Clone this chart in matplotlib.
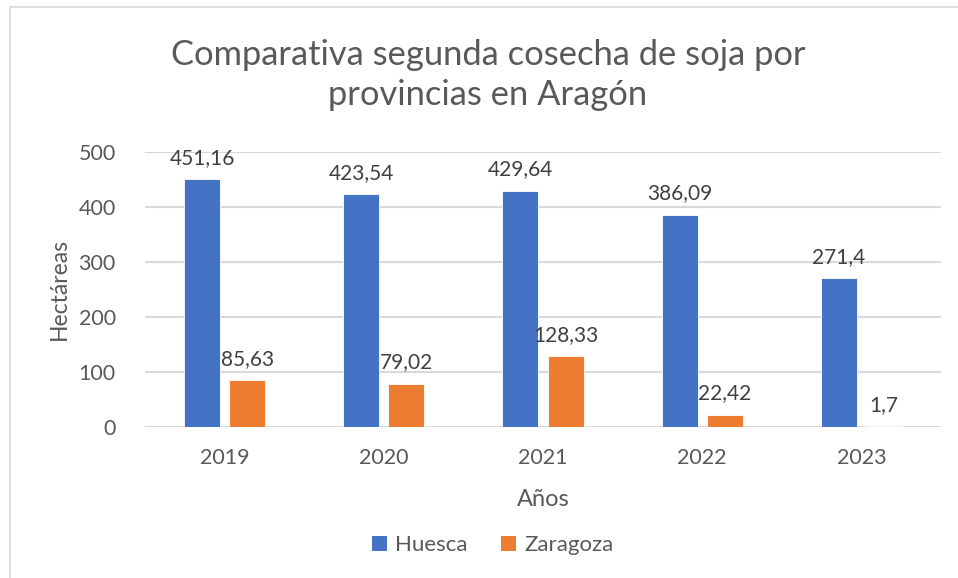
import matplotlib
matplotlib.use("Agg")
import matplotlib.pyplot as plt
from matplotlib.lines import Line2D
from matplotlib.patches import Patch
import numpy as np

plt.rcParams['font.family'] = ['Lato', 'DejaVu Sans']

years = ["2019", "2020", "2021", "2022", "2023"]
huesca = [451.16, 423.54, 429.64, 386.09, 271.4]
zaragoza = [85.63, 79.02, 128.33, 22.42, 1.7]
huesca_labels = ["451,16", "423,54", "429,64", "386,09", "271,4"]
zaragoza_labels = ["85,63", "79,02", "128,33", "22,42", "1,7"]

blue = "#4472C4"
orange = "#ED7D31"
grid_c = "#D9D9D9"
tick_c = "#595959"
lab_c = "#404040"

fig = plt.figure(figsize=(9.58, 5.78), dpi=100)
ax = fig.add_axes([145/958, 1-427/578, (941-145)/958, (427-152)/578])

x = np.arange(len(years))
w = 0.226
off = 0.1415
ax.bar(x - off, huesca, w, color=blue, edgecolor="#FFFFFF", linewidth=0.6, zorder=3, label="Huesca")
ax.bar(x + off, zaragoza, w, color=orange, edgecolor="#FFFFFF", linewidth=0.6, zorder=3, label="Zaragoza")

for xi, v, t in zip(x - off, huesca, huesca_labels):
    ax.annotate(t, (xi, v), xytext=(0, 8), textcoords="offset points", ha="center", va="bottom",
                fontsize=15, color=lab_c)
for xi, v, t in zip(x + off, zaragoza, zaragoza_labels):
    ax.annotate(t, (xi, v), xytext=(0, 8), textcoords="offset points", ha="center", va="bottom",
                fontsize=15, color=lab_c)

ax.set_xlim(-0.5, 4.5)
ax.set_ylim(0, 500)
ax.set_yticks([0, 100, 200, 300, 400, 500])
ax.set_xticks(x)
ax.set_xticklabels(years)
ax.yaxis.grid(True, color=grid_c, linewidth=1.5, zorder=0)
ax.set_axisbelow(True)
for s in ["top", "right", "left", "bottom"]:
    ax.spines[s].set_visible(False)
ax.tick_params(axis="both", length=0, labelsize=15.5, labelcolor=tick_c)
ax.tick_params(axis="y", pad=21)
ax.tick_params(axis="x", pad=15)

ax.set_ylabel("Hectáreas", fontsize=16.5, color=tick_c, labelpad=6)
ax.set_xlabel("Años", fontsize=17, color=tick_c, labelpad=15)

fig.text(488/958, 1-75/578, "Comparativa segunda cosecha de soja por\nprovincias en Aragón",
         ha="center", va="center", fontsize=24.8, color=tick_c, linespacing=1.32)

handles = [Patch(facecolor=blue, label="Huesca"), Patch(facecolor=orange, label="Zaragoza")]
fig.legend(handles=handles, loc="center", bbox_to_anchor=(493/958, 1-545/578), ncol=2,
           frameon=False, fontsize=16, labelcolor=tick_c, handlelength=0.65, handleheight=0.65,
           handletextpad=0.4, columnspacing=1.5)

# chart border (top and left visible)
fig.add_artist(Line2D([10/958, 10/958], [0, 1-7/578], color=grid_c, linewidth=1.2, transform=fig.transFigure))
fig.add_artist(Line2D([10/958, 1], [1-7/578, 1-7/578], color=grid_c, linewidth=1.2, transform=fig.transFigure))

fig.savefig("out.png", dpi=100)
